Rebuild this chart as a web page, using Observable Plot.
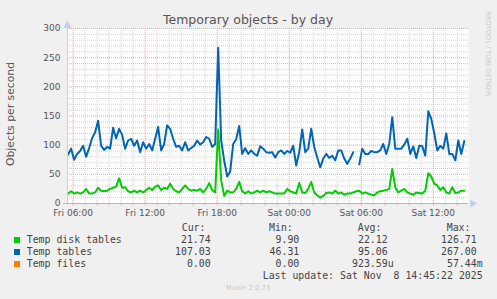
<!DOCTYPE html>
<html><head><meta charset="utf-8">
<script src="https://cdn.jsdelivr.net/npm/d3@7"></script>
<script src="https://cdn.jsdelivr.net/npm/@observablehq/plot@0.6"></script>
<style>
body{margin:0;background:#f0f0f0;}
#wrap{position:relative;width:497px;height:299px;overflow:hidden;background:#f0f0f0;font-family:"DejaVu Sans",sans-serif;}
#chart{position:absolute;left:0;top:0;}
.t{position:absolute;white-space:pre;line-height:1;}
.sq{position:absolute;width:6px;height:6px;}
</style></head><body><div id="wrap"><div id="chart"></div></div>
<script>
const title = "Temporary objects - by day";
const yLabel = "Objects per second";
const sideText = "RRDTOOL / TOBI OETIKER";
const footer = "Munin 2.0.73";
const lastUpdate = "Last update: Sat Nov  8 14:45:22 2025";
const seriesNames = ["Temp disk tables", "Temp tables", "Temp files"];
const seriesColors = ["#00cc00", "#0066b3", "#ff8000"];
const statHeaders = ["Cur:", "Min:", "Avg:", "Max:"];
const curVals = ["21.74", "107.03", "0.00"];
const minVals = ["9.90", "46.31", "0.00"];
const avgVals = ["22.12", "95.06", "923.59u"];
const maxVals = ["126.71", "267.00", "57.44m"];
const xTickLabels = ["Fri 06:00", "Fri 12:00", "Fri 18:00", "Sat 00:00", "Sat 06:00", "Sat 12:00"];
const xTickTimes = [Date.UTC(2025,10,7,6), Date.UTC(2025,10,7,12), Date.UTC(2025,10,7,18), Date.UTC(2025,10,8,0), Date.UTC(2025,10,8,6), Date.UTC(2025,10,8,12)].map(d => new Date(d));
const yTicks = [0, 50, 100, 150, 200, 250, 300];
const xDomain = [new Date(Date.UTC(2025,10,7,5,32)), new Date(Date.UTC(2025,10,8,14,56))];
const startTime = Date.UTC(2025,10,7,5,35);
const stepMinutes = 15;

const tempDiskTables = [
17,21,17,19,17,19,25,17,17,19,
27,22,21,22,25,27,29,43,27,28,
21,19,22,19,22,19,23,27,23,29,
31,23,27,25,34,25,21,19,25,31,
25,22,23,22,25,19,25,35,23,19,
126.71,40,13,22,19,19,25,37,21,17,
21,17,19,22,19,22,19,21,19,17,
17,17,17,25,21,19,17,35,19,18,
25,37,19,14,9.9,13,18,19,17,22,
17,19,15,17,17,19,21,22,17,19,
17,15,14,19,21,22,23,25,59,28,
19,22,25,19,17,15,19,18,17,22,
52,46,34,31,23,28,19,17,28,18,
19,22,21.74];

const tempTables = [
84,94,75,85,90,99,80,95,112,122,
142,99,92,97,94,130,112,128,118,94,
108,111,99,108,88,105,94,102,91,111,
131,91,102,134,128,111,97,99,91,105,
91,95,99,108,101,105,114,111,97,102,
267,108,74,46.31,55,102,110,133,85,95,
85,91,85,82,98,94,88,87,88,79,
88,91,85,90,87,99,65,88,127,88,
94,128,97,79,62,77,85,78,82,74,
91,91,77,68,77,88,null,67,94,85,
85,90,88,88,91,102,85,102,148,94,
94,94,101,111,85,98,78,99,98,82,
158,145,120,91,99,94,120,85,85,74,
108,85,107.03];

const toRows = arr => arr.map((v, i) => ({t: new Date(startTime + i * stepMinutes * 60000), v}));
const labelMap = new Map(xTickTimes.map((d, i) => [+d, xTickLabels[i]]));
const hours = d3.utcHour.range(xDomain[0], xDomain[1]);
const minorHours = hours.filter(d => !labelMap.has(+d));
const minorY = d3.range(10, 300, 10).filter(v => v % 50 !== 0);
const MAJ = "#eba3a3", MIN = "#d2d2d2", AX = "#c4ccf2";

const chart = Plot.plot({
  width: 497, height: 220,
  marginTop: 28, marginBottom: 17, marginLeft: 67, marginRight: 29,
  style: {background: "transparent", color: "#555", fontFamily: "DejaVu Sans, sans-serif", fontSize: "9px", overflow: "visible"},
  x: {type: "utc", domain: xDomain},
  y: {domain: [0, 300]},
  marks: [
    Plot.frame({fill: "white", stroke: null}),
    Plot.ruleX(minorHours, {stroke: MIN, strokeDasharray: "1,1"}),
    Plot.ruleY(minorY, {stroke: MIN, strokeDasharray: "1,1"}),
    Plot.ruleX(xTickTimes, {stroke: MAJ, strokeDasharray: "1,1"}),
    Plot.ruleY(yTicks.filter(v => v > 0), {stroke: MAJ, strokeDasharray: "1,1"}),
    Plot.line(toRows(tempDiskTables), {x: "t", y: "v", stroke: seriesColors[0], strokeWidth: 2}),
    Plot.line(toRows(tempTables), {x: "t", y: "v", stroke: seriesColors[1], strokeWidth: 2}),
    Plot.ruleY([0], {stroke: MAJ, insetLeft: -4}),
    Plot.ruleX(hours, {x: d => d, y1: 0, y2: -4, stroke: MAJ}),
    Plot.ruleX([xDomain[0]], {y1: 0, y2: 300, stroke: AX}),
    Plot.dot([0], {x: () => xDomain[0], y: () => 300, symbol: "triangle", r: 3, fill: AX, stroke: null, dy: -3}),
    Plot.dot([0], {x: () => xDomain[1], y: () => 0, symbol: "triangle", r: 3, fill: AX, stroke: null, rotate: 90, dx: 4}),
    Plot.axisY({ticks: yTicks, tickSize: 0, tickPadding: 7, label: null}),
    Plot.axisX({ticks: xTickTimes, tickSize: 0, tickPadding: 6, label: null, tickFormat: d => labelMap.get(+d)})
  ]
});
document.getElementById("chart").appendChild(chart);

const wrap = document.getElementById("wrap");
function txt(str, x, y, o = {}) {
  const el = document.createElement("div");
  el.className = "t";
  el.textContent = str;
  el.style.left = x + "px";
  el.style.top = y + "px";
  el.style.fontSize = (o.size || 10) + "px";
  el.style.color = o.color || "#333";
  if (o.mono) el.style.fontFamily = "'DejaVu Sans Mono', monospace";
  const ax = o.anchor === "end" ? "-100%" : o.anchor === "middle" ? "-50%" : "0";
  el.style.transform = `translate(${ax}, -50%)`;
  if (o.rotate) { el.style.transform = `translate(-50%, -50%) rotate(${o.rotate}deg)`; }
  wrap.appendChild(el);
  return el;
}
txt(title, 248, 19.5, {size: 12.5, color: "#555", anchor: "middle"});
txt(yLabel, 10.5, 114, {size: 10.8, color: "#555", rotate: -90});
txt(sideText, 487.5, 53.5, {size: 6.6, color: "#c8c8c8", rotate: 90});

const mono = 9.9;
const headX = [181.7, 269, 357.7, 446.7];
statHeaders.forEach((h, i) => txt(h, headX[i], 227.7, {size: mono, mono: true, color: "#444"}));
const rowY = [239.7, 251.7, 263.5];
const valEnd = [210.7, 299.3, 387.7, 476.7];
const cols = [curVals, minVals, avgVals, maxVals];
seriesNames.forEach((name, r) => {
  const sq = document.createElement("div");
  sq.className = "sq";
  sq.style.left = "14px"; sq.style.top = (rowY[r] - 3) + "px";
  sq.style.background = seriesColors[r];
  wrap.appendChild(sq);
  txt(name, 26.7, rowY[r], {size: mono, mono: true, color: "#444"});
  cols.forEach((col, c) => {
    const s = col[r];
    const m = s.match(/^([\d.]+)(\D*)$/);
    txt(m[1], valEnd[c], rowY[r], {size: mono, mono: true, color: "#444", anchor: "end"});
    if (m[2]) txt(m[2], valEnd[c], rowY[r], {size: mono, mono: true, color: "#444"});
  });
});
txt(lastUpdate, 482.7, 275.7, {size: mono, mono: true, color: "#444", anchor: "end"});
txt(footer, 248, 288.3, {size: 6.8, color: "#c8c8c8", anchor: "middle"});
</script></body></html>
